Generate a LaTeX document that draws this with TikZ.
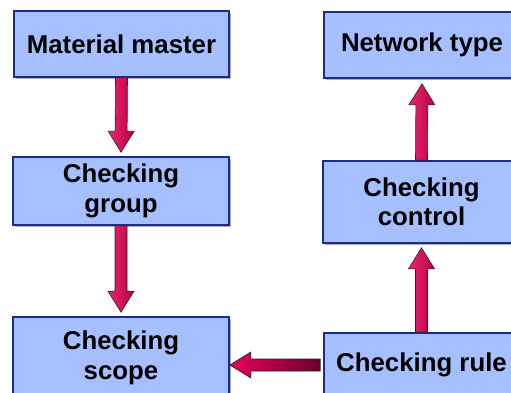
\documentclass[tikz,border=0pt]{standalone}
\usepackage{fontspec}
\setmainfont{Liberation Sans}
\usetikzlibrary{calc,shadows}

\definecolor{boxblue}{HTML}{A6C0FF}
\definecolor{boxedge}{HTML}{1A2C88}
\definecolor{arrowhot}{HTML}{E8005C}
\definecolor{arrowmid}{HTML}{B8003F}
\definecolor{arrowdark}{HTML}{6A002E}

\tikzset{
	box/.style={rectangle, draw=boxedge, line width=1.6pt, fill=boxblue,
		align=center, inner sep=0pt,
		font=\fontsize{25.8}{29.5}\selectfont\bfseries,
		drop shadow={shadow xshift=2pt, shadow yshift=-2pt, fill=boxedge!50!black!70}},
	arrowfill/.style={draw=black!85, line width=0.6pt},
	vshade/.style={left color=arrowhot!85!white, right color=arrowmid},
	hshade/.style={left color=arrowhot, right color=arrowdark},
}

% block arrow from #1 to #2, #3 = shading
\newcommand{\blockarrow}[3]{%
	\coordinate (tl) at (#1);
	\coordinate (tp) at (#2);
	\coordinate (hb) at ($(tp)!21pt!(tl)$);
	\path[arrowfill, #3] ($(tl)!6pt!90:(tp)$) -- ($(hb)!6pt!90:(tp)$)
		-- ($(hb)!13pt!90:(tp)$) -- (tp) -- ($(hb)!13pt!-90:(tp)$)
		-- ($(hb)!6pt!-90:(tp)$) -- ($(tl)!6pt!-90:(tp)$) -- cycle;
}

\begin{document}
\begin{tikzpicture}[x=1pt, y=-1pt]
	\useasboundingbox (0,0) rectangle (511,393);

	\node[box, minimum width=215pt, minimum height=66pt] (mm) at (121.5,44)  {Material master};
	\node[box, minimum width=216pt, minimum height=68pt] (cg) at (121,191)   {Checking\\group};
	\node[box, minimum width=216pt, minimum height=82pt] (cs) at (121,358)   {Checking\\scope};
	\node[box, minimum width=196pt, minimum height=66pt] (nt) at (422,45)    {Network type};
	\node[box, minimum width=197pt, minimum height=82pt] (cc) at (421.5,202) {Checking\\control};
	\node[box, minimum width=195pt, minimum height=64pt] (cr) at (421.5,365) {Checking rule};

	\blockarrow{mm.south}{[yshift=4pt]cg.north}{vshade}
	\blockarrow{cg.south}{[yshift=4pt]cs.north}{vshade}
	\blockarrow{cr.north}{[yshift=-4pt]cc.south}{vshade}
	\blockarrow{cc.north}{[yshift=-5pt]nt.south}{vshade}
	\blockarrow{[xshift=-3pt]cr.west}{cs.east |- cr.west}{hshade}
\end{tikzpicture}
\end{document}
